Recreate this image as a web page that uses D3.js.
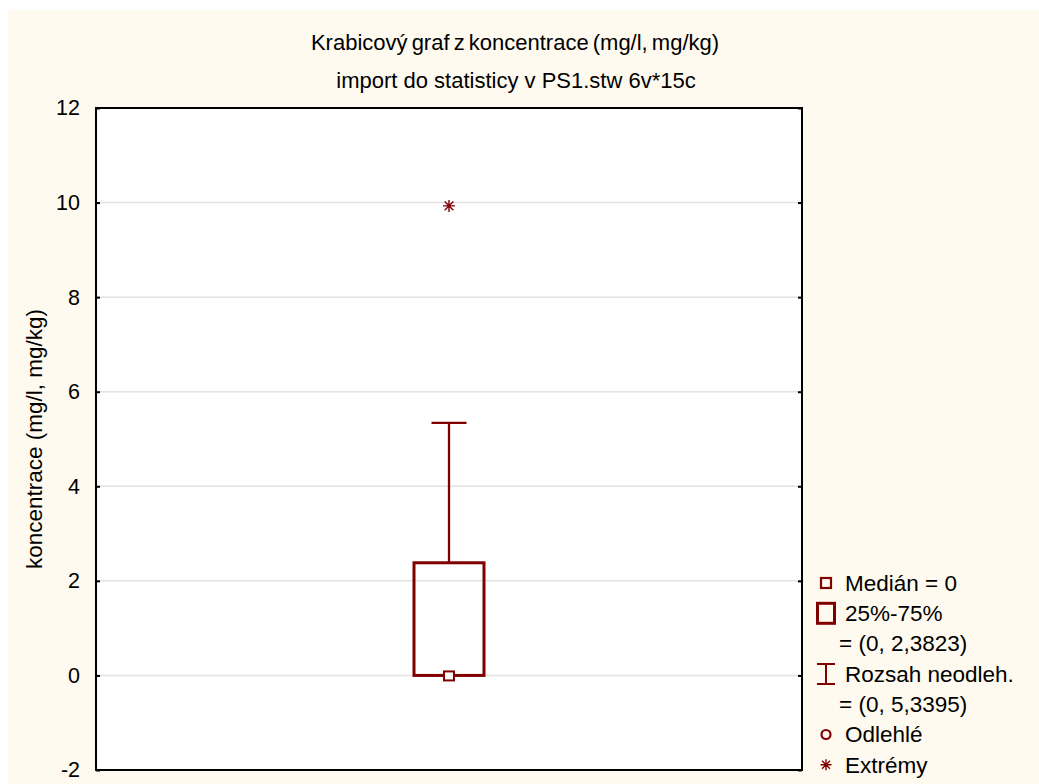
<!DOCTYPE html>
<html>
<head>
<meta charset="utf-8">
<script src="https://cdn.jsdelivr.net/npm/d3@7/dist/d3.min.js"></script>
<style>
  html, body { margin: 0; padding: 0; background: #ffffff; }
  svg { display: block; font-family: "Liberation Sans", Arial, sans-serif; }
</style>
</head>
<body>
<svg id="chart" width="1039" height="784"></svg>
<script>
// Box plot summary for one variable
const categories   = ["koncentrace"];
const medians      = [0];
const q1Values     = [0];
const q3Values     = [2.3823];
const whiskerLow   = [0];
const whiskerHigh  = [5.3395];
const outliers     = [[]];
const extremes     = [[9.93]];

const yTicks = [-2, 0, 2, 4, 6, 8, 10, 12];

const titleLines = [
  "Krabicový graf z koncentrace (mg/l, mg/kg)",
  "import do statisticy v PS1.stw 6v*15c"
];
const yLabel = "koncentrace (mg/l, mg/kg)";

const legendRows = [
  { sym: "median",  text: "Medián = " + medians[0] },
  { sym: "box",     text: "25%-75%" },
  { sym: null,      text: "= (" + q1Values[0] + ", " + String(q3Values[0]).replace(".", ",") + ")" },
  { sym: "whisker", text: "Rozsah neodleh." },
  { sym: null,      text: "= (" + whiskerLow[0] + ", " + String(whiskerHigh[0]).replace(".", ",") + ")" },
  { sym: "outlier", text: "Odlehlé" },
  { sym: "extreme", text: "Extrémy" }
];

const dark = "#800000";
const svg = d3.select("#chart");
const W = 1039, H = 784;
const plot = { left: 96, right: 802, top: 108, bottom: 770 };

// cream page background
svg.append("rect").attr("x", 8).attr("y", 10).attr("width", W - 8).attr("height", H - 10)
  .attr("fill", "#fefaef");

// plot area
svg.append("rect")
  .attr("x", plot.left).attr("y", plot.top)
  .attr("width", plot.right - plot.left).attr("height", plot.bottom - plot.top)
  .attr("fill", "#ffffff");

const y = d3.scaleLinear().domain([-2, 12]).range([plot.bottom, plot.top]);
const x = d3.scaleBand().domain(categories).range([plot.left, plot.right]).padding(0);

// grid lines
svg.append("g").selectAll("line")
  .data(yTicks.filter(t => t > -2 && t < 12))
  .join("line")
  .attr("x1", plot.left).attr("x2", plot.right)
  .attr("y1", d => y(d)).attr("y2", d => y(d))
  .attr("stroke", "#e2e2e2").attr("stroke-width", 1.5);

// left axis with inward ticks; plain hyphen for negative numbers
const leftAxis = d3.axisLeft(y).tickValues(yTicks).tickSize(-4).tickPadding(16)
  .tickFormat(d => String(d));
const gl = svg.append("g").attr("transform", `translate(${plot.left},0)`).call(leftAxis);
gl.select(".domain").remove();
gl.selectAll(".tick line").attr("stroke", "#000").attr("stroke-width", 2);
gl.selectAll(".tick text")
  .attr("font-size", 21.5).attr("fill", "#000")
  .attr("font-family", "Liberation Sans, Arial, sans-serif");

// right axis with inward ticks
const rightAxis = d3.axisRight(y).tickValues(yTicks).tickSize(-4).tickFormat("");
const gr = svg.append("g").attr("transform", `translate(${plot.right},0)`).call(rightAxis);
gr.select(".domain").remove();
gr.selectAll(".tick line").attr("stroke", "#000").attr("stroke-width", 2);

// frame
svg.append("rect")
  .attr("x", plot.left).attr("y", plot.top)
  .attr("width", plot.right - plot.left).attr("height", plot.bottom - plot.top)
  .attr("fill", "none").attr("stroke", "#000").attr("stroke-width", 2);

// boxes
const boxW = 70, capW = 35;
categories.forEach((c, i) => {
  const cx = x(c) + x.bandwidth() / 2;
  const g = svg.append("g");
  // whisker stems
  g.append("line").attr("x1", cx).attr("x2", cx)
    .attr("y1", y(q3Values[i])).attr("y2", y(whiskerHigh[i]))
    .attr("stroke", dark).attr("stroke-width", 2.3);
  g.append("line").attr("x1", cx).attr("x2", cx)
    .attr("y1", y(q1Values[i])).attr("y2", y(whiskerLow[i]))
    .attr("stroke", dark).attr("stroke-width", 2.3);
  // caps
  [whiskerHigh[i], whiskerLow[i]].forEach(v => {
    g.append("line").attr("x1", cx - capW / 2).attr("x2", cx + capW / 2)
      .attr("y1", y(v)).attr("y2", y(v))
      .attr("stroke", dark).attr("stroke-width", 2.3);
  });
  // box
  g.append("rect")
    .attr("x", cx - boxW / 2).attr("y", y(q3Values[i]))
    .attr("width", boxW).attr("height", y(q1Values[i]) - y(q3Values[i]))
    .attr("fill", "none").attr("stroke", dark).attr("stroke-width", 3);
  // median marker
  g.append("rect")
    .attr("x", cx - 5).attr("y", y(medians[i]) - 4)
    .attr("width", 10).attr("height", 9)
    .attr("fill", "#fff").attr("stroke", dark).attr("stroke-width", 2);
  // outliers
  outliers[i].forEach(v => {
    g.append("circle").attr("cx", cx).attr("cy", y(v)).attr("r", 4.5)
      .attr("fill", "none").attr("stroke", dark).attr("stroke-width", 2.2);
  });
  // extremes
  extremes[i].forEach(v => drawStar(g, cx, y(v), 6));
});

function drawStar(g, cx, cy, r) {
  const d = r * 0.72;
  g.append("path")
    .attr("d", `M${cx - r},${cy}H${cx + r}M${cx},${cy - r}V${cy + r}` +
               `M${cx - d},${cy - d}L${cx + d},${cy + d}M${cx - d},${cy + d}L${cx + d},${cy - d}`)
    .attr("stroke", dark).attr("stroke-width", 1.4).attr("fill", "none");
}

// titles
svg.append("text").attr("x", 515).attr("y", 50).attr("text-anchor", "middle")
  .attr("font-size", 22).attr("word-spacing", -2).text(titleLines[0]);
svg.append("text").attr("x", 516).attr("y", 88).attr("text-anchor", "middle")
  .attr("font-size", 22).text(titleLines[1]);

// y axis title
svg.append("text")
  .attr("transform", `translate(42,${(plot.top + plot.bottom) / 2}) rotate(-90)`)
  .attr("text-anchor", "middle").attr("font-size", 22.5).text(yLabel);

// legend
const lg = svg.append("g");
const legY0 = 583, legStep = 30.3, symX = 826;
legendRows.forEach((r, i) => {
  const cy = legY0 + i * legStep;
  lg.append("text")
    .attr("x", r.sym ? 845 : 839).attr("y", cy).attr("dy", "0.35em")
    .attr("font-size", 22.5).text(r.text);
  if (r.sym === "median") {
    lg.append("rect").attr("x", symX - 5).attr("y", cy - 5).attr("width", 10).attr("height", 10)
      .attr("fill", "none").attr("stroke", dark).attr("stroke-width", 2.2);
  } else if (r.sym === "box") {
    lg.append("rect").attr("x", symX - 8.5).attr("y", cy - 10).attr("width", 17).attr("height", 20)
      .attr("fill", "none").attr("stroke", dark).attr("stroke-width", 3);
  } else if (r.sym === "whisker") {
    lg.append("path")
      .attr("d", `M${symX - 9},${cy - 10}H${symX + 9}M${symX},${cy - 10}V${cy + 10}M${symX - 9},${cy + 10}H${symX + 9}`)
      .attr("stroke", dark).attr("stroke-width", 2).attr("fill", "none");
  } else if (r.sym === "outlier") {
    lg.append("circle").attr("cx", symX).attr("cy", cy).attr("r", 4.5)
      .attr("fill", "none").attr("stroke", dark).attr("stroke-width", 2.2);
  } else if (r.sym === "extreme") {
    drawStar(lg, symX, cy, 5.5);
  }
});
</script>
</body>
</html>
